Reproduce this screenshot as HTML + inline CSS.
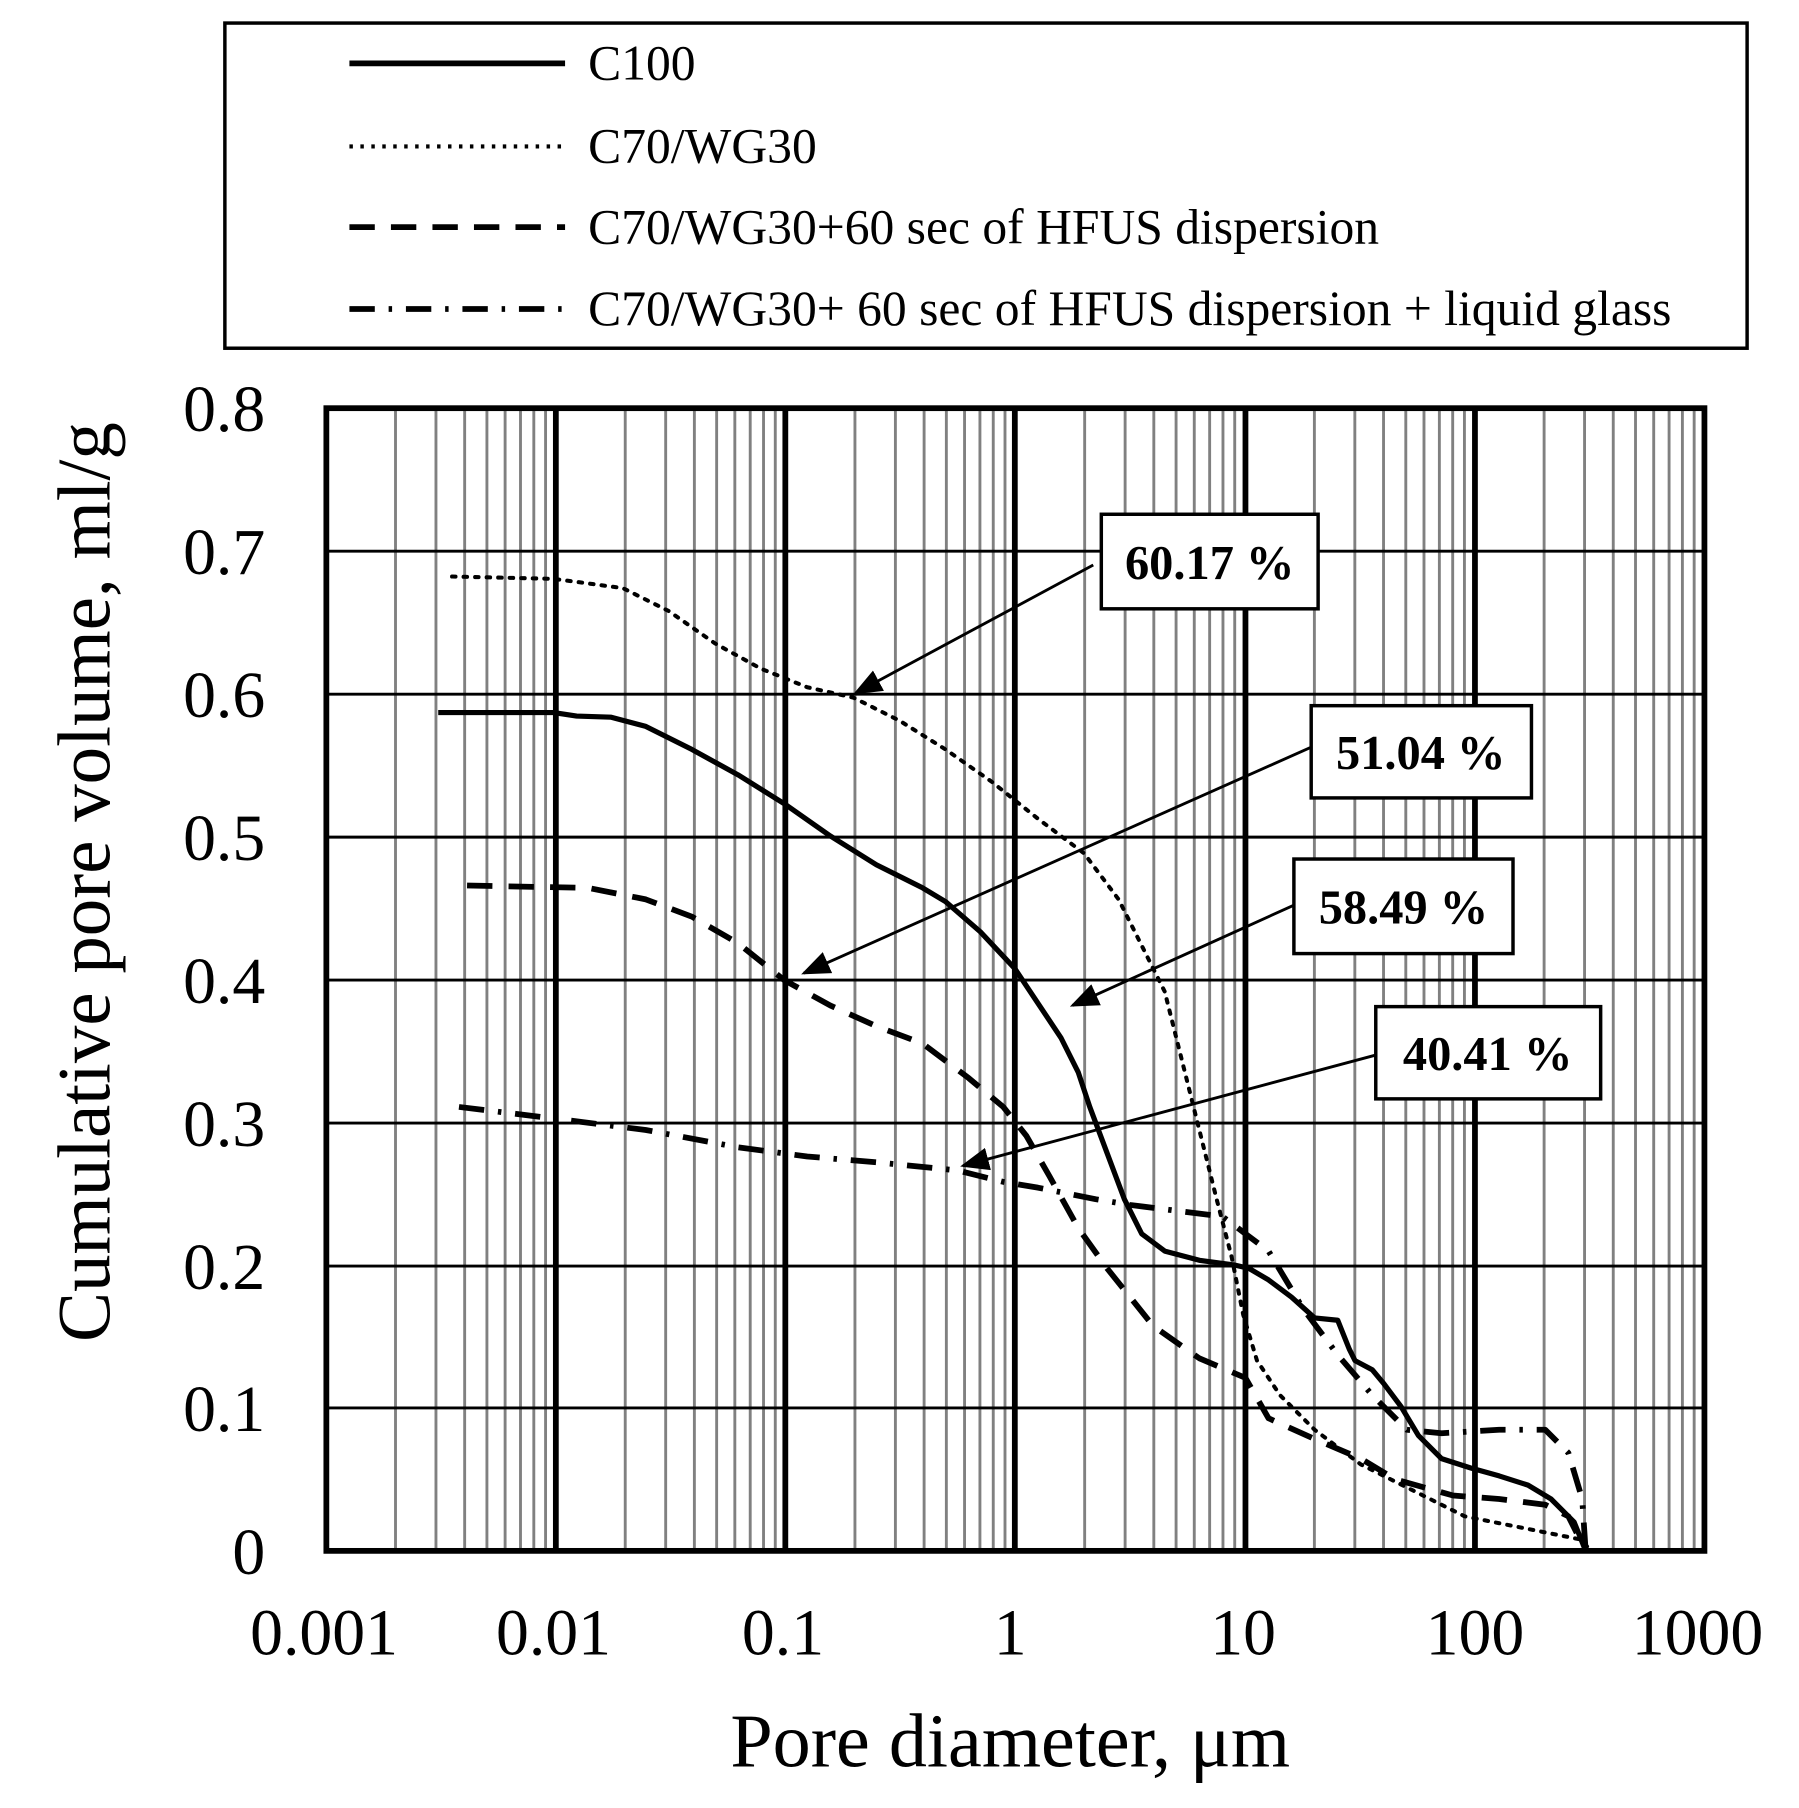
<!DOCTYPE html>
<html><head><meta charset="utf-8"><style>
html,body{margin:0;padding:0;background:#fff}
svg{display:block}
text{font-family:"Liberation Serif",serif;fill:#000}
</style></head><body>
<svg width="1799" height="1808" viewBox="0 0 1560 1568" preserveAspectRatio="none" xmlns="http://www.w3.org/2000/svg">
<rect x="0" y="0" width="1560" height="1568" fill="#fff"/>
<!-- legend -->
<rect x="195" y="20" width="1320" height="282" fill="none" stroke="#000" stroke-width="3"/>
<line x1="303" y1="55" x2="490" y2="55" stroke="#000" stroke-width="5"/>
<line x1="303" y1="127" x2="490" y2="127" stroke="#000" stroke-width="3.5" stroke-dasharray="3 6.5"/>
<line x1="303" y1="197" x2="490" y2="197" stroke="#000" stroke-width="5" stroke-dasharray="22 14"/>
<line x1="303" y1="268" x2="490" y2="268" stroke="#000" stroke-width="5" stroke-dasharray="22 12 3 12"/>
<g font-size="43">
<text x="510" y="69">C100</text>
<text x="510" y="141">C70/WG30</text>
<text x="510" y="211">C70/WG30+60 sec of HFUS dispersion</text>
<text x="510" y="282">C70/WG30+ 60 sec of HFUS dispersion + liquid glass</text>
</g>
<g id="minor" stroke="#808080" stroke-width="2.5"></g>
<g stroke="#000" stroke-width="2.5">
<line x1="283" y1="478" x2="1478" y2="478"/><line x1="283" y1="602" x2="1478" y2="602"/>
<line x1="283" y1="726" x2="1478" y2="726"/><line x1="283" y1="850" x2="1478" y2="850"/>
<line x1="283" y1="974" x2="1478" y2="974"/><line x1="283" y1="1098" x2="1478" y2="1098"/>
<line x1="283" y1="1221" x2="1478" y2="1221"/>
</g>
<g stroke="#000" stroke-width="5">
<line x1="482" y1="354" x2="482" y2="1345"/><line x1="681" y1="354" x2="681" y2="1345"/>
<line x1="880" y1="354" x2="880" y2="1345"/><line x1="1080" y1="354" x2="1080" y2="1345"/>
<line x1="1279" y1="354" x2="1279" y2="1345"/>
</g>
<rect x="283" y="354" width="1195" height="991" fill="none" stroke="#000" stroke-width="5"/>
<!-- curves -->
<g fill="none" stroke="#000" stroke-linejoin="round">
<polyline stroke-width="4.5" points="380,618 480,618 500,621 530,622 560,630 600,650 640,672 680,697 720,725 760,750 800,770 820,782 850,808 880,840 900,870 920,900 935,930 945,960 960,1000 975,1040 990,1070 1010,1085 1040,1093 1070,1097 1083,1100 1100,1110 1120,1125 1140,1143 1160,1145 1170,1170 1175,1180 1190,1188 1200,1200 1215,1220 1230,1245 1250,1265 1275,1273 1300,1280 1325,1288 1345,1300 1365,1320 1375,1345"/>
<polyline stroke-width="3.5" stroke-dasharray="3 7" stroke-linecap="round" points="392,500 480,502 540,510 580,530 620,558 660,580 700,596 740,605 780,625 820,650 860,678 900,710 940,740 970,780 990,820 1010,860 1025,920 1040,980 1055,1040 1068,1090 1078,1140 1090,1180 1110,1210 1140,1240 1180,1270 1220,1290 1270,1315 1320,1325 1370,1335 1380,1345"/>
<polyline stroke-width="5" stroke-dasharray="22 14" points="405,768 510,770 560,780 600,795 640,818 680,850 720,872 760,890 800,905 840,935 870,960 890,985 910,1020 935,1065 960,1100 1000,1150 1040,1178 1080,1195 1100,1230 1140,1248 1180,1265 1210,1283 1260,1297 1300,1300 1340,1305 1360,1315 1375,1345"/>
<polyline stroke-width="5" stroke-dasharray="22 12 3 12" points="398,960 480,970 560,980 640,995 700,1003 760,1008 830,1015 870,1025 900,1030 950,1040 980,1045 1060,1055 1080,1070 1100,1085 1130,1135 1160,1175 1190,1210 1220,1240 1250,1243 1300,1240 1340,1240 1360,1260 1372,1300 1375,1345"/>
</g>
<!-- annotations -->
<defs><marker id="ah" markerWidth="10" markerHeight="8" refX="9" refY="4" orient="auto" markerUnits="strokeWidth"><path d="M0,0 L10,4 L0,8 z" fill="#000"/></marker></defs>
<g stroke="#000" stroke-width="2.5" marker-end="url(#ah)">
<line x1="948" y1="490" x2="742" y2="601"/>
<line x1="1137" y1="648" x2="697" y2="844"/>
<line x1="1122" y1="785" x2="930" y2="872"/>
<line x1="1193" y1="915" x2="835" y2="1011"/>
</g>
<g fill="#fff" stroke="#000" stroke-width="3">
<rect x="955" y="446" width="188" height="82"/>
<rect x="1137" y="612" width="191" height="80"/>
<rect x="1122" y="745" width="190" height="82"/>
<rect x="1193" y="873" width="195" height="80"/>
</g>
<g font-size="42" font-weight="bold" text-anchor="middle">
<text x="1049" y="502">60.17 %</text>
<text x="1232" y="667">51.04 %</text>
<text x="1217" y="801">58.49 %</text>
<text x="1290" y="928">40.41 %</text>
</g>
<!-- tick labels -->
<g font-size="57" text-anchor="end">
<text x="230" y="374">0.8</text><text x="230" y="498">0.7</text><text x="230" y="622">0.6</text>
<text x="230" y="746">0.5</text><text x="230" y="870">0.4</text><text x="230" y="994">0.3</text>
<text x="230" y="1118">0.2</text><text x="230" y="1241">0.1</text><text x="230" y="1365">0</text>
</g>
<g font-size="57" text-anchor="middle">
<text x="281" y="1435">0.001</text><text x="480" y="1435">0.01</text><text x="679" y="1435">0.1</text>
<text x="876" y="1435">1</text><text x="1078" y="1435">10</text><text x="1279" y="1435">100</text>
<text x="1472" y="1435">1000</text>
</g>
<text x="876" y="1532" font-size="66" text-anchor="middle">Pore diameter, μm</text>
<text transform="translate(95,765) rotate(-90)" font-size="65" text-anchor="middle">Cumulative pore volume, ml/g</text>
</svg>
<script>
(function(){var g=document.getElementById('minor');var ns='http://www.w3.org/2000/svg';
for(var d=0;d<6;d++){for(var k=2;k<10;k++){var x=283+199.2*(d+Math.log10(k));var l=document.createElementNS(ns,'line');
l.setAttribute('x1',x);l.setAttribute('x2',x);l.setAttribute('y1',354);l.setAttribute('y2',1345);g.appendChild(l);}}})();
</script>
</body></html>
